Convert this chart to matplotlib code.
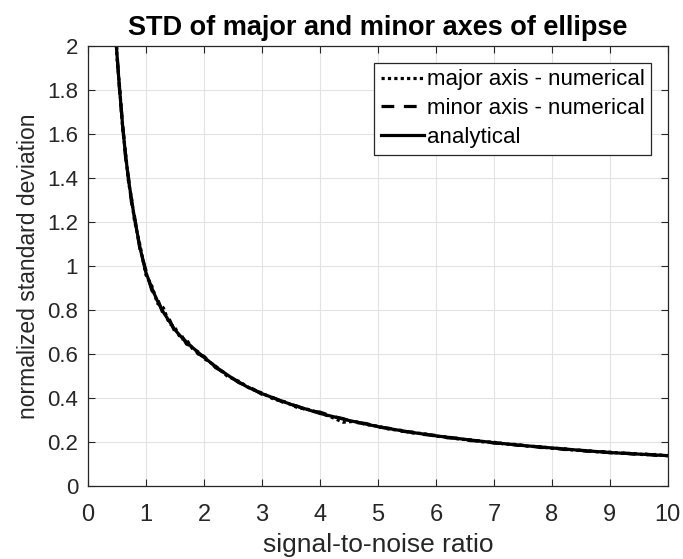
import numpy as np
import matplotlib.pyplot as plt

# valores
x_an = [0.49, 0.52, 0.55, 0.6, 0.65, 0.7, 0.8, 0.9, 1.0, 1.1, 1.2, 1.3, 1.4, 1.5,
        1.6, 1.8, 2.0, 2.25, 2.5, 2.75, 3.0, 3.5, 4.0, 4.5, 5.0, 5.5, 6.0, 6.5,
        7.0, 7.5, 8.0, 8.5, 9.0, 9.5, 10.0]
y_an = [2.0, 1.89, 1.79, 1.63, 1.50, 1.39, 1.22, 1.08, 0.97, 0.90, 0.84, 0.79,
        0.75, 0.71, 0.68, 0.63, 0.585, 0.533, 0.488, 0.45, 0.42, 0.371, 0.33,
        0.298, 0.27, 0.247, 0.228, 0.212, 0.197, 0.184, 0.173, 0.162, 0.152,
        0.145, 0.138]

x_num = [0.48, 0.5, 0.55, 0.6, 0.65, 0.7, 0.75, 0.8, 0.9, 1.0, 1.1, 1.2, 1.3,
         1.4, 1.5, 1.6, 1.7, 1.8, 1.9, 2.0, 2.2, 2.4, 2.6, 2.8, 3.0, 3.2, 3.4,
         3.6, 3.8, 4.0, 4.2, 4.4, 4.6, 4.8, 5.0, 5.2, 5.4, 5.6, 5.8, 6.0, 6.2,
         6.4, 6.6, 6.8, 7.0, 7.2, 7.4, 7.6, 7.8, 8.0, 8.2, 8.4, 8.6, 8.8, 9.0,
         9.2, 9.4, 9.6, 9.8, 10.0]
y_major = [2.06, 1.95, 1.80, 1.62, 1.51, 1.38, 1.31, 1.21, 1.09, 0.96, 0.91,
           0.83, 0.81, 0.74, 0.72, 0.67, 0.665, 0.625, 0.61, 0.58, 0.545,
           0.500, 0.476, 0.443, 0.423, 0.395, 0.382, 0.358, 0.348, 0.332,
           0.313, 0.290, 0.294, 0.279, 0.272, 0.258, 0.253, 0.241, 0.238,
           0.226, 0.223, 0.213, 0.210, 0.201, 0.199, 0.190, 0.189, 0.180,
           0.179, 0.171, 0.170, 0.162, 0.161, 0.155, 0.154, 0.149, 0.148,
           0.142, 0.143, 0.137]
y_minor = [2.04, 1.97, 1.78, 1.64, 1.49, 1.40, 1.29, 1.23, 1.07, 0.98, 0.89,
           0.85, 0.78, 0.76, 0.70, 0.69, 0.645, 0.635, 0.60, 0.59, 0.538,
           0.508, 0.470, 0.448, 0.417, 0.401, 0.376, 0.364, 0.342, 0.336,
           0.318, 0.306, 0.289, 0.284, 0.268, 0.262, 0.249, 0.245, 0.234,
           0.230, 0.219, 0.217, 0.206, 0.205, 0.195, 0.194, 0.185, 0.184,
           0.175, 0.175, 0.166, 0.166, 0.158, 0.158, 0.151, 0.151, 0.145,
           0.146, 0.139, 0.139]

xticks = list(range(0, 11))
yticks = [0, 0.2, 0.4, 0.6, 0.8, 1, 1.2, 1.4, 1.6, 1.8, 2]
ytick_labels = ['0', '0.2', '0.4', '0.6', '0.8', '1', '1.2', '1.4', '1.6', '1.8', '2']

plt.rcParams['font.family'] = ['Liberation Sans', 'DejaVu Sans']

fig = plt.figure(figsize=(6.83, 5.59), dpi=100)
ax = fig.add_axes([0.1288, 0.1306, 0.849, 0.787])

ax.plot(x_num, y_major, color='black', linestyle=(0, (1, 1)), linewidth=2.3,
        label='major axis - numerical')
ax.plot(x_num, y_minor, color='black', linestyle=(0, (4, 3)), linewidth=2.3,
        label='minor axis - numerical')
ax.plot(x_an, y_an, color='black', linestyle='-', linewidth=2.3,
        label='analytical')

ax.set_xlim(0, 10)
ax.set_ylim(0, 2)
ax.set_xticks(xticks)
ax.set_yticks(yticks)
ax.set_yticklabels(ytick_labels)
ax.tick_params(direction='in', top=True, right=True, labelsize=16,
               colors='#262626', length=5)
ax.tick_params(axis='x', pad=13, labelsize=17)
ax.tick_params(axis='y', pad=7)
ax.grid(True, color='#e3e3e3', linewidth=0.8)
ax.set_axisbelow(True)
for s in ax.spines.values():
    s.set_color('#262626')
    s.set_linewidth(0.9)

ax.set_title('STD of major and minor axes of ellipse', fontsize=19.5,
             fontweight='bold', pad=8)
ax.set_xlabel('signal-to-noise ratio', fontsize=19, color='#262626', labelpad=5)
ax.set_ylabel('normalized standard deviation', fontsize=16.5, color='#262626',
              labelpad=5)

leg = ax.legend(loc='upper right', fontsize=16, handlelength=1.95,
                handletextpad=0.1, borderaxespad=0.75, fancybox=False,
                framealpha=1, borderpad=0.3, labelspacing=0.35)
leg.get_frame().set_edgecolor('#262626')
leg.get_frame().set_linewidth(0.9)

fig.savefig('out.png', dpi=100)
